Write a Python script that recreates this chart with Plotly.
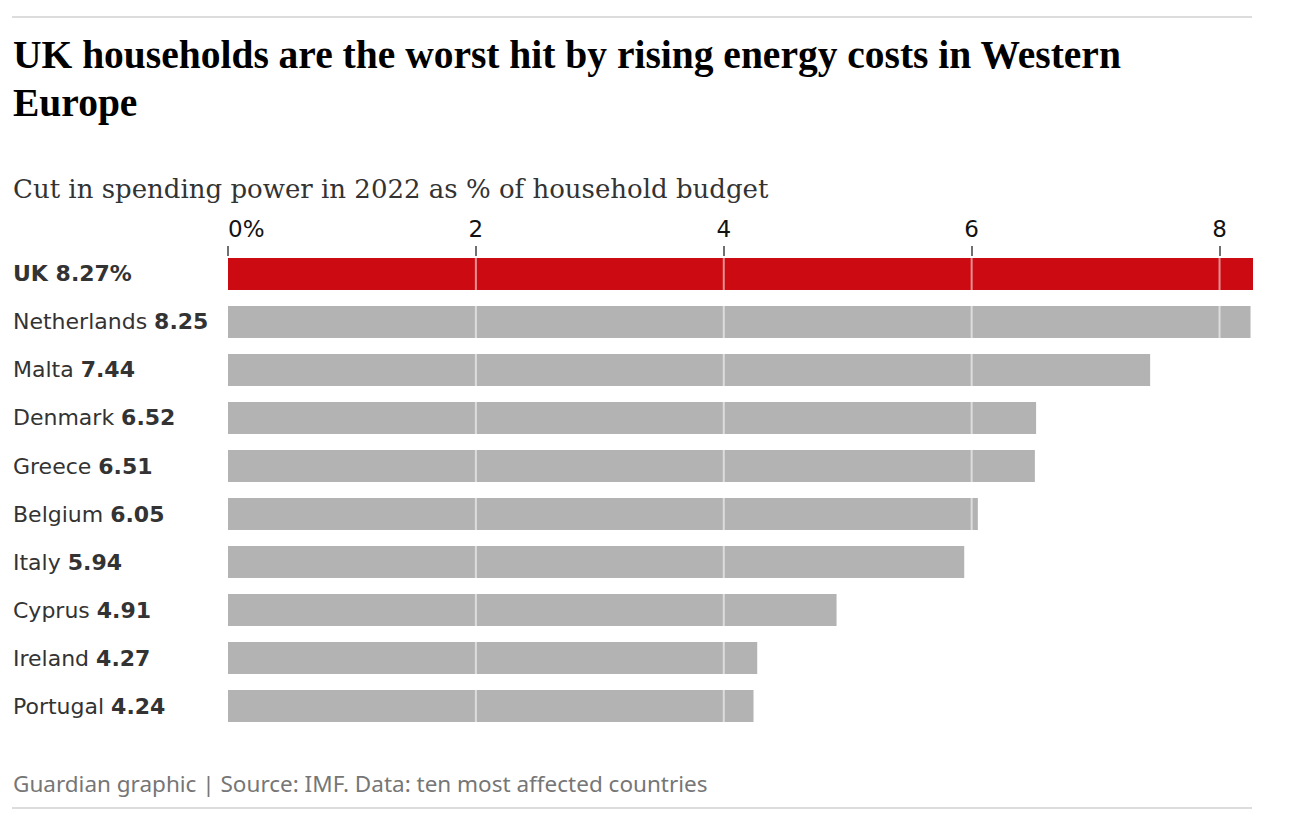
import plotly.graph_objects as go

# ---- data ----
countries = ["UK", "Netherlands", "Malta", "Denmark", "Greece",
             "Belgium", "Italy", "Cyprus", "Ireland", "Portugal"]
values = [8.27, 8.25, 7.44, 6.52, 6.51, 6.05, 5.94, 4.91, 4.27, 4.24]
tick_vals = [0, 2, 4, 6, 8]
tick_text = ["", "2", "4", "6", "8"]
first_tick_label = "0%"
highlight = "UK"

title_lines = ["UK households are the worst hit by rising energy costs in Western", "Europe"]
subtitle = "Cut in spending power in 2022 as % of household budget"
footer = "Guardian graphic | Source: IMF. Data: ten most affected countries"

# ---- geometry helpers (pixel -> paper) ----
W, H = 1294, 828
ML, MR, MT, MB = 12, 41, 257, 98
PW = W - ML - MR
PH = H - MT - MB


def py(Y):
    return (H - MB - Y) / PH


def px(X):
    return (X - ML) / PW


SANS = "DejaVu Sans"
FOOT = "Noto Sans"
TITLE = "Liberation Serif"
SUB = "DejaVu Serif"

colors = ["#cc0a11" if c == highlight else "#b3b3b3" for c in countries]

fig = go.Figure(
    go.Bar(
        x=values,
        y=countries,
        orientation="h",
        marker=dict(color=colors, line=dict(width=0)),
        hoverinfo="skip",
    )
)

annotations = []
# country labels
for c, v in zip(countries, values):
    if c == highlight:
        txt = f"<b>{c} {v:.2f}%</b>"
    else:
        txt = f"{c} <b>{v:.2f}</b>"
    annotations.append(dict(
        text=txt, x=0, xref="paper", y=c, yref="y",
        xanchor="left", yanchor="middle", showarrow=False, xshift=-1,
        font=dict(family=SANS, size=22, color="#333333"),
    ))

# first tick label, left aligned
annotations.append(dict(
    text=first_tick_label, x=tick_vals[0], xref="x", y=py(229), yref="paper",
    xanchor="left", yanchor="middle", showarrow=False, xshift=-2,
    font=dict(family=SANS, size=23, color="#121212"),
))

# title lines
annotations.append(dict(
    text=f"<b>{title_lines[0]}</b>", x=0, xref="paper", y=py(55), yref="paper",
    xanchor="left", yanchor="middle", showarrow=False, xshift=-1,
    font=dict(family=TITLE, size=39.5, color="#000000"),
))
annotations.append(dict(
    text=f"<b>{title_lines[1]}</b>", x=0, xref="paper", y=py(103), yref="paper",
    xanchor="left", yanchor="middle", showarrow=False, xshift=-1,
    font=dict(family=TITLE, size=39.5, color="#000000"),
))
annotations.append(dict(
    text=subtitle, x=0, xref="paper", y=py(189), yref="paper",
    xanchor="left", yanchor="middle", showarrow=False, xshift=-1,
    font=dict(family=SUB, size=26, color="#333333"),
))
annotations.append(dict(
    text=footer, x=0, xref="paper", y=py(783), yref="paper",
    xanchor="left", yanchor="middle", showarrow=False, xshift=-1,
    font=dict(family=FOOT, size=22.5, color="#767676"),
))

shapes = []
# rules
for Y in (17, 808):
    shapes.append(dict(type="line", xref="paper", yref="paper",
                       x0=0, x1=px(1252), y0=py(Y), y1=py(Y),
                       line=dict(color="#dcdcdc", width=2), layer="above"))
# gridlines over bars
for t in tick_vals[1:]:
    shapes.append(dict(type="line", xref="x", yref="paper",
                       x0=t, x1=t, y0=0, y1=1,
                       line=dict(color="rgba(255,255,255,0.55)", width=2),
                       layer="above"))

fig.update_layout(
    width=W, height=H,
    margin=dict(l=ML, r=MR, t=MT, b=MB, pad=0),
    plot_bgcolor="white", paper_bgcolor="white",
    bargap=1 / 3,
    showlegend=False,
    annotations=annotations,
    shapes=shapes,
    xaxis=dict(
        domain=[px(228), 1],
        range=[0, 8.27],
        side="top",
        tickmode="array", tickvals=tick_vals, ticktext=tick_text,
        ticks="outside", ticklen=10, tickwidth=2, tickcolor="#707070",
        tickfont=dict(family=SANS, size=23, color="#121212"),
        showgrid=False, zeroline=False, showline=False, fixedrange=True,
    ),
    yaxis=dict(
        range=[9.5, -0.354],
        categoryorder="array", categoryarray=countries,
        showticklabels=False, showgrid=False, zeroline=False, showline=False,
        ticks="", fixedrange=True,
    ),
)

fig.write_html(
    "out.html",
    config={"displayModeBar": False},
    post_script="document.body.style.margin='0';document.body.style.padding='0';",
)
